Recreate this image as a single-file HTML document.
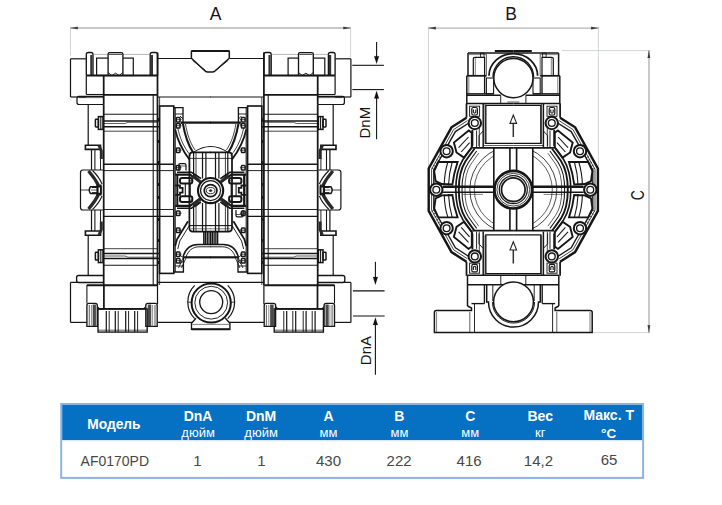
<!DOCTYPE html>
<html><head><meta charset="utf-8"><title>AF0170PD</title>
<style>
html,body{margin:0;padding:0;background:#fff}
body{width:722px;height:505px;position:relative;overflow:hidden;font-family:"Liberation Sans",sans-serif}
svg{display:block}
</style></head><body>
<svg width="722" height="505" viewBox="0 0 722 505" style="position:absolute;left:0;top:0" fill="none" stroke="#161616" stroke-linecap="butt">
<defs>
<clipPath id="clipL"><path d="M460,148 H493.8 V230.6 H460 Z M566.6,148 H532.8 V230.6 H566.6 Z"/></clipPath>
</defs>
<line x1="70.5" y1="28" x2="350.6" y2="28" stroke-width="1.28" stroke="#b2b4b7"/>
<line x1="70.5" y1="26.5" x2="70.5" y2="55.5" stroke-width="0.74" stroke="#c2c4c7"/>
<line x1="350.6" y1="26.5" x2="350.6" y2="57" stroke-width="0.74" stroke="#c2c4c7"/>
<path d="M70.5,28 l7.3,-1.3 v2.6 z" stroke-width="0.14" fill="#3a3a3a" stroke="#3a3a3a"/>
<path d="M350.6,28 l-7.3,-1.3 v2.6 z" stroke-width="0.14" fill="#3a3a3a" stroke="#3a3a3a"/>
<line x1="352.3" y1="65.3" x2="383.9" y2="65.3" stroke-width="1.08" stroke="#111"/>
<line x1="352.3" y1="89.6" x2="383.9" y2="89.6" stroke-width="1.08" stroke="#111"/>
<line x1="376.6" y1="42.1" x2="376.6" y2="60" stroke-width="1.08" stroke="#111"/>
<path d="M376.6,63.8 l-2.4,-7.6 h4.8 z" stroke-width="0.14" fill="#111" stroke="#111"/>
<line x1="376.6" y1="95" x2="376.6" y2="139.3" stroke-width="1.08" stroke="#111"/>
<path d="M376.6,91 l-2.4,7.6 h4.8 z" stroke-width="0.14" fill="#111" stroke="#111"/>
<line x1="352.9" y1="290.9" x2="384.6" y2="290.9" stroke-width="1.08" stroke="#111"/>
<line x1="352.9" y1="316" x2="384.6" y2="316" stroke-width="1.08" stroke="#111"/>
<line x1="375.4" y1="261.7" x2="375.4" y2="279" stroke-width="1.08" stroke="#111"/>
<path d="M375.4,284.7 l-2.4,-7.8 h4.8 z" stroke-width="0.14" fill="#111" stroke="#111"/>
<line x1="375.4" y1="321" x2="375.4" y2="374.7" stroke-width="1.08" stroke="#111"/>
<path d="M375.4,317.4 l-2.4,7.6 h4.8 z" stroke-width="0.14" fill="#111" stroke="#111"/>
<line x1="428.5" y1="28.1" x2="598.4" y2="28.1" stroke-width="1.28" stroke="#b2b4b7"/>
<line x1="428.5" y1="26.5" x2="428.5" y2="168" stroke-width="0.74" stroke="#c2c4c7"/>
<line x1="598.4" y1="26.5" x2="598.4" y2="170" stroke-width="0.74" stroke="#c2c4c7"/>
<path d="M428.5,28.1 l7.3,-1.3 v2.6 z" stroke-width="0.14" fill="#3a3a3a" stroke="#3a3a3a"/>
<path d="M598.4,28.1 l-7.3,-1.3 v2.6 z" stroke-width="0.14" fill="#3a3a3a" stroke="#3a3a3a"/>
<line x1="562" y1="50.6" x2="650.5" y2="50.6" stroke-width="0.74" stroke="#c2c4c7"/>
<line x1="593" y1="332.6" x2="650.5" y2="332.6" stroke-width="0.74" stroke="#c2c4c7"/>
<line x1="649" y1="50.6" x2="649" y2="332.6" stroke-width="1.42" stroke="#b2b4b7"/>
<path d="M648.9,50.6 l-1.3,7.3 h2.6 z" stroke-width="0.14" fill="#3a3a3a" stroke="#3a3a3a"/>
<path d="M648.9,332.6 l-1.3,-7.3 h2.6 z" stroke-width="0.14" fill="#3a3a3a" stroke="#3a3a3a"/>
<g><line x1="70.5" y1="58.8" x2="70.5" y2="97" stroke-width="1.22"/>
<line x1="70.5" y1="58.8" x2="86.3" y2="58.8" stroke-width="1.22"/>
<line x1="70.5" y1="97" x2="86.3" y2="97" stroke-width="1.22"/>
<line x1="157.5" y1="58.5" x2="191.4" y2="58.5" stroke-width="1.22"/>
<line x1="157.5" y1="97" x2="211" y2="97" stroke-width="1.22"/>
<path d="M86.3,75.5 V54.5 Q86.3,52.5 88.3,52.5 H91 Q93,52.5 93,54.5 V75.5" stroke-width="1.35" fill="none"/>
<line x1="91.3" y1="55" x2="91.3" y2="75.5" stroke-width="2.16" stroke="#333"/>
<path d="M150.2,75.5 V54.5 Q150.2,52.5 152.2,52.5 H155.6 Q157.6,52.5 157.6,54.5 V75.5" stroke-width="1.35" fill="none"/>
<line x1="151.9" y1="55" x2="151.9" y2="75.5" stroke-width="2.16" stroke="#333"/>
<line x1="93" y1="54.4" x2="150.2" y2="54.4" stroke-width="0.54" stroke="#777"/>
<rect x="96.6" y="58.1" width="36.7" height="17.4" rx="0" stroke-width="1.22" fill="none"/>
<path d="M108.1,75.5 V54 Q108.1,52.6 109.6,52.6 H121.4 Q122.9,52.6 122.9,54 V75.5" stroke-width="1.35" fill="#fff"/>
<path d="M108.1,72.5 L111.8,75.5 M122.9,72.5 L119.2,75.5 M111.8,75.5 L115.5,73.2 L119.2,75.5" stroke-width="0.94" fill="none"/>
<line x1="109" y1="54.4" x2="122" y2="54.4" stroke-width="0.81"/>
<line x1="86.3" y1="75.4" x2="157.6" y2="75.4" stroke-width="2.03"/>
<line x1="86.3" y1="75.5" x2="86.3" y2="94.5" stroke-width="1.22"/>
<line x1="103.7" y1="75.5" x2="103.7" y2="104.5" stroke-width="1.76"/>
<line x1="103.7" y1="94.8" x2="157.5" y2="94.8" stroke-width="1.76"/>
<line x1="86.3" y1="94.5" x2="103.7" y2="94.5" stroke-width="1.08"/>
<line x1="157.5" y1="52.5" x2="157.5" y2="285" stroke-width="1.76"/>
<path d="M103.7,96.3 H79 Q77,96.3 77,98.3 V102.5 Q77,104.5 79,104.5 H103.7" stroke-width="1.22" fill="none"/>
<line x1="79" y1="97.6" x2="103.7" y2="97.6" stroke-width="0.68"/>
<line x1="88.2" y1="104.5" x2="88.2" y2="145" stroke-width="1.22"/>
<line x1="103.7" y1="104.5" x2="103.7" y2="285" stroke-width="1.76"/>
<line x1="153.2" y1="95" x2="153.2" y2="285" stroke-width="1.08"/>
<line x1="159.6" y1="97" x2="159.6" y2="285" stroke-width="0.81"/>
<rect x="95.4" y="119.3" width="3.0" height="7.6" rx="0.6" stroke-width="1.49" fill="none"/>
<rect x="98.4" y="116.6" width="4.6" height="12.8" rx="0" stroke-width="1.49" fill="none"/>
<line x1="100.8" y1="116.6" x2="100.8" y2="129.4" stroke-width="1.08"/>
<line x1="103.7" y1="114.3" x2="157.5" y2="114.3" stroke-width="1.08"/>
<line x1="103.7" y1="121" x2="160" y2="121" stroke-width="1.35"/>
<line x1="103.7" y1="126.7" x2="160" y2="126.7" stroke-width="1.35"/>
<line x1="103.7" y1="131.2" x2="157.5" y2="131.2" stroke-width="0.81"/>
<path d="M103.7,123.5 H125 L128,122.3 H157.5" stroke-width="0.68" fill="none"/>
<line x1="103.7" y1="164.2" x2="173.8" y2="164.2" stroke-width="1.42"/>
<line x1="103.7" y1="170.6" x2="173.8" y2="170.6" stroke-width="0.94"/>
<line x1="103.7" y1="209.5" x2="173.8" y2="209.5" stroke-width="0.94"/>
<line x1="103.7" y1="216.4" x2="173.8" y2="216.4" stroke-width="1.42"/>
<rect x="95.4" y="252.3" width="3.0" height="7.7" rx="0.6" stroke-width="1.49" fill="none"/>
<rect x="98.4" y="249.8" width="4.6" height="12.8" rx="0" stroke-width="1.49" fill="none"/>
<line x1="100.8" y1="249.8" x2="100.8" y2="262.6" stroke-width="1.08"/>
<line x1="103.7" y1="248.7" x2="157.5" y2="248.7" stroke-width="0.81"/>
<line x1="103.7" y1="253.5" x2="160" y2="253.5" stroke-width="1.35"/>
<line x1="103.7" y1="258.5" x2="160" y2="258.5" stroke-width="1.35"/>
<line x1="103.7" y1="265.2" x2="157.5" y2="265.2" stroke-width="1.08"/>
<path d="M103.7,256 H125 L128,257.2 H157.5" stroke-width="0.68" fill="none"/>
<path d="M85.4,145.2 H100.5 V149.4 H85.4 Z" stroke-width="1.62" fill="none"/>
<line x1="91.5" y1="150" x2="91.5" y2="170" stroke-width="1.22"/>
<line x1="94.9" y1="150" x2="94.9" y2="170" stroke-width="1.08"/>
<line x1="100.5" y1="145" x2="100.5" y2="170" stroke-width="0.94"/>
<path d="M85.4,231 H100.5 V235.2 H85.4 Z" stroke-width="1.62" fill="none"/>
<line x1="91.5" y1="210" x2="91.5" y2="231" stroke-width="1.22"/>
<line x1="94.9" y1="210" x2="94.9" y2="231" stroke-width="1.08"/>
<line x1="100.5" y1="210" x2="100.5" y2="236" stroke-width="0.94"/>
<path d="M103,170 H83 Q80.5,170 80.5,172.5 V207.5 Q80.5,210 83,210 H103" stroke-width="1.22" fill="none"/>
<line x1="80.5" y1="190" x2="92" y2="190" stroke-width="0.81"/>
<path d="M88.5,171 Q95.5,179 99,186.5 M88.5,209 Q95.5,201 99,193.5" stroke-width="3.24" fill="none" stroke="#2a2a2a"/>
<path d="M92.5,170.5 Q99.5,177.5 102,184 M92.5,209.5 Q99.5,202.5 102,196" stroke-width="1.08" fill="none"/>
<path d="M99,145.5 L101.3,151 V159 M99,235 L101.3,229.5 V221.5" stroke-width="2.97" fill="none" stroke="#2a2a2a"/>
<path d="M90.5,186.7 H101 V193.5 H90.5 Q88,190 90.5,186.7 Z" stroke-width="1.49" fill="#fff"/>
<line x1="97.5" y1="184.5" x2="97.5" y2="195.5" stroke-width="2.16"/>
<line x1="100.8" y1="184.5" x2="100.8" y2="195.5" stroke-width="1.62"/>
<line x1="91" y1="190" x2="97.5" y2="190" stroke-width="0.68"/>
<line x1="92" y1="187.5" x2="97.5" y2="187.5" stroke-width="1.08"/>
<line x1="92" y1="192.7" x2="97.5" y2="192.7" stroke-width="1.08"/>
<line x1="88.2" y1="236" x2="88.2" y2="275.5" stroke-width="1.22"/>
<path d="M103.7,275.5 H78.6 Q76.6,275.5 76.6,277.5 V280.6 Q76.6,282.6 78.6,282.6 H103.7" stroke-width="1.35" fill="none"/>
<line x1="70.5" y1="282.4" x2="70.5" y2="322.4" stroke-width="1.22"/>
<line x1="70.5" y1="282.4" x2="103.7" y2="282.4" stroke-width="1.22"/>
<line x1="70.5" y1="322.4" x2="87" y2="322.4" stroke-width="1.22"/>
<line x1="86.9" y1="285.2" x2="157.2" y2="285.2" stroke-width="2.03"/>
<line x1="86.9" y1="285" x2="86.9" y2="303.5" stroke-width="1.08"/>
<line x1="103.9" y1="285" x2="103.9" y2="308.9" stroke-width="1.76"/>
<line x1="98" y1="308.9" x2="147.2" y2="308.9" stroke-width="1.76"/>
<line x1="157.5" y1="285" x2="157.5" y2="304" stroke-width="1.22"/>
<path d="M86.9,326.3 V305.4 Q86.9,303.4 88.9,303.4 H95.3 Q97.3,303.4 97.3,305.4 V326.3 Z" stroke-width="1.35" fill="#fff"/>
<line x1="89.3" y1="305" x2="89.3" y2="326" stroke-width="1.08" stroke="#666"/>
<line x1="94.3" y1="304.5" x2="94.3" y2="326" stroke-width="3.24" stroke="#4a4a4a"/>
<line x1="91.5" y1="305" x2="91.5" y2="326" stroke-width="1.08" stroke="#999"/>
<path d="M145.8,326.3 V305.4 Q145.8,303.4 147.8,303.4 H155.2 Q157.2,303.4 157.2,305.4 V326.3 Z" stroke-width="1.35" fill="#fff"/>
<line x1="149.5" y1="304.5" x2="149.5" y2="326" stroke-width="3.51" stroke="#4a4a4a"/>
<line x1="152.6" y1="305" x2="152.6" y2="326" stroke-width="1.08" stroke="#999"/>
<line x1="155" y1="305" x2="155" y2="326" stroke-width="1.08" stroke="#666"/>
<path d="M97.3,306.5 L99.5,308.9 M145.8,306.5 L143.6,308.9" stroke-width="1.08" fill="none"/>
<rect x="98" y="308.9" width="49.2" height="23.2" rx="0" stroke-width="1.35" fill="none"/>
<line x1="98" y1="330.2" x2="147.2" y2="330.2" stroke-width="0.68"/>
<line x1="106.3" y1="311" x2="106.3" y2="332" stroke-width="1.22"/>
<line x1="109.2" y1="311" x2="109.2" y2="332" stroke-width="0.94"/>
<line x1="115.3" y1="311" x2="115.3" y2="332" stroke-width="1.22"/>
<line x1="118.2" y1="311" x2="118.2" y2="332" stroke-width="0.94"/>
<line x1="125.7" y1="311" x2="125.7" y2="332" stroke-width="1.22"/>
<line x1="128.6" y1="311" x2="128.6" y2="332" stroke-width="0.94"/>
<line x1="134.7" y1="311" x2="134.7" y2="332" stroke-width="1.22"/>
<line x1="137.6" y1="311" x2="137.6" y2="332" stroke-width="0.94"/>
<line x1="157.5" y1="282.4" x2="211" y2="282.4" stroke-width="1.22"/>
<line x1="157.5" y1="322.4" x2="192.4" y2="322.4" stroke-width="1.22"/>
<rect x="159.6" y="106" width="14.2" height="167.4" rx="0" stroke-width="1.62" fill="none"/>
<line x1="175.2" y1="108" x2="175.2" y2="272" stroke-width="1.08"/>
<path d="M174,107.6 H183 V122 M174,272 H183.4 V258" stroke-width="1.35" fill="none"/>
<line x1="175.2" y1="114" x2="183" y2="114" stroke-width="0.94"/>
<line x1="175.2" y1="266" x2="183.4" y2="266" stroke-width="0.94"/>
<rect x="176.3" y="117.5" width="3.7" height="4.5" rx="0.8" stroke-width="1.49" fill="none"/>
<line x1="176.3" y1="119.7" x2="181.5" y2="119.7" stroke-width="0.81"/>
<rect x="176.3" y="123.5" width="3.7" height="4.5" rx="0.8" stroke-width="1.49" fill="none"/>
<line x1="176.3" y1="125.7" x2="181.5" y2="125.7" stroke-width="0.81"/>
<rect x="176.3" y="148" width="3.7" height="4.5" rx="0.8" stroke-width="1.49" fill="none"/>
<line x1="176.3" y1="150.2" x2="181.5" y2="150.2" stroke-width="0.81"/>
<rect x="176.3" y="165.5" width="3.7" height="4.5" rx="0.8" stroke-width="1.49" fill="none"/>
<line x1="176.3" y1="167.7" x2="181.5" y2="167.7" stroke-width="0.81"/>
<rect x="176.3" y="211" width="3.7" height="4.5" rx="0.8" stroke-width="1.49" fill="none"/>
<line x1="176.3" y1="213.2" x2="181.5" y2="213.2" stroke-width="0.81"/>
<rect x="176.3" y="228" width="3.7" height="4.5" rx="0.8" stroke-width="1.49" fill="none"/>
<line x1="176.3" y1="230.2" x2="181.5" y2="230.2" stroke-width="0.81"/>
<rect x="176.3" y="252" width="3.7" height="4.5" rx="0.8" stroke-width="1.49" fill="none"/>
<line x1="176.3" y1="254.2" x2="181.5" y2="254.2" stroke-width="0.81"/>
<rect x="176.3" y="258.5" width="3.7" height="4.5" rx="0.8" stroke-width="1.49" fill="none"/>
<line x1="176.3" y1="260.7" x2="181.5" y2="260.7" stroke-width="0.81"/>
<path d="M180,116 L183,119 M180,125 L183,122 M180,264 L183.4,261 M180,255 L183.4,258" stroke-width="0.94" fill="none"/>
<line x1="158.6" y1="118" x2="158.6" y2="121" stroke-width="1.22"/>
<line x1="158.6" y1="140" x2="158.6" y2="143" stroke-width="1.22"/>
<line x1="158.6" y1="161" x2="158.6" y2="164" stroke-width="1.22"/>
<line x1="158.6" y1="183" x2="158.6" y2="186" stroke-width="1.22"/>
<line x1="158.6" y1="196" x2="158.6" y2="199" stroke-width="1.22"/>
<line x1="158.6" y1="218" x2="158.6" y2="221" stroke-width="1.22"/>
<line x1="158.6" y1="239" x2="158.6" y2="242" stroke-width="1.22"/>
<line x1="158.6" y1="261" x2="158.6" y2="264" stroke-width="1.22"/>
<line x1="180.5" y1="122.6" x2="211" y2="122.6" stroke-width="2.29"/>
<line x1="183" y1="257.3" x2="211" y2="257.3" stroke-width="2.16"/>
<path d="M182.9,123.5 C184.5,133 187,143 193,152.4" stroke-width="2.03" fill="none"/>
<path d="M185.5,124 C187,133 189.5,142 195,150" stroke-width="0.81" fill="none"/>
<path d="M175.2,129.5 C177,138 181.5,149 189.4,159.5" stroke-width="1.76" fill="none"/>
<path d="M177.8,128 C179.5,137 183.5,147 190.5,155.5" stroke-width="0.81" fill="none"/>
<path d="M188,221.3 L177,239.3 L175.2,246" stroke-width="1.76" fill="none"/>
<path d="M189,226 L179.8,241 L177.8,249" stroke-width="0.94" fill="none"/>
<path d="M211,152.4 H193 Q189.4,152.4 189.4,156 V228 Q189.4,231.6 193,231.6 H211" stroke-width="1.76" fill="none"/>
<line x1="189.4" y1="225.6" x2="211" y2="225.6" stroke-width="1.08"/>
<line x1="189.4" y1="158.4" x2="211" y2="158.4" stroke-width="0.81"/>
<line x1="191" y1="228.8" x2="211" y2="228.8" stroke-width="0.54"/>
<line x1="193.6" y1="152.4" x2="193.6" y2="178.5" stroke-width="1.22"/>
<line x1="193.6" y1="203" x2="193.6" y2="231.6" stroke-width="1.22"/>
<line x1="196" y1="152.4" x2="196" y2="178.5" stroke-width="0.81"/>
<line x1="196" y1="203" x2="196" y2="231.6" stroke-width="0.81"/>
<line x1="202.5" y1="152.4" x2="202.5" y2="178.5" stroke-width="1.22"/>
<line x1="202.5" y1="203" x2="202.5" y2="231.6" stroke-width="1.22"/>
<line x1="205.9" y1="152.4" x2="205.9" y2="178.5" stroke-width="1.22"/>
<line x1="205.9" y1="203" x2="205.9" y2="231.6" stroke-width="1.22"/>
<rect x="180" y="178" width="12.3" height="5.5" rx="2" stroke-width="2.03" fill="none"/>
<rect x="180" y="196.2" width="12.3" height="5.8" rx="2" stroke-width="2.03" fill="none"/>
<line x1="185.3" y1="183.5" x2="185.3" y2="196.2" stroke-width="1.08"/>
<line x1="190.2" y1="183.5" x2="190.2" y2="196.2" stroke-width="1.08"/>
<path d="M175.2,174.6 H190 L199.5,181.5 M175.2,205.8 H190 L199.5,199" stroke-width="2.16" fill="none"/>
<path d="M177,172.3 H191.5 L201,178.6 M177,208.2 H191.5 L201,201.8" stroke-width="1.62" fill="none"/>
<path d="M193,174.5 l6,4.5 M195,174 l6,4.5 M193,206.5 l6,-4.5 M195,207 l6,-4.5" stroke-width="0.81" fill="none"/>
<path d="M175.2,185.5 H180 V187.8 H182.6 V192.6 H180 V194.8 H175.2" stroke-width="1.76" fill="none"/>
<line x1="177.3" y1="174.6" x2="177.3" y2="205.8" stroke-width="2.03"/>
<path d="M192.6,180.8 H189.4 M192.6,200.2 H189.4" stroke-width="0.68" fill="none"/>
<line x1="203.9" y1="231.6" x2="203.9" y2="244.4" stroke-width="1.62"/>
<line x1="205.6" y1="231.6" x2="205.6" y2="244.4" stroke-width="1.22"/>
<line x1="207.3" y1="231.6" x2="207.3" y2="244.4" stroke-width="1.35"/>
<line x1="209" y1="231.6" x2="209" y2="244.4" stroke-width="1.22"/>
<line x1="210.5" y1="231.6" x2="210.5" y2="244.4" stroke-width="1.08"/>
<path d="M211,244.6 H198 C190,244.6 185,250 183,257" stroke-width="1.49" fill="none"/>
<path d="M211,246.8 H199 C192.5,246.8 188,251 186,257" stroke-width="0.94" fill="none"/>
<path d="M183,258 L178.5,268 M186,258 L181.5,268" stroke-width="0.81" fill="none"/></g>
<g transform="translate(421.4,0) scale(-1,1)"><line x1="70.5" y1="58.8" x2="70.5" y2="97" stroke-width="1.22"/>
<line x1="70.5" y1="58.8" x2="86.3" y2="58.8" stroke-width="1.22"/>
<line x1="70.5" y1="97" x2="86.3" y2="97" stroke-width="1.22"/>
<line x1="157.5" y1="58.5" x2="191.4" y2="58.5" stroke-width="1.22"/>
<line x1="157.5" y1="97" x2="211" y2="97" stroke-width="1.22"/>
<path d="M86.3,75.5 V54.5 Q86.3,52.5 88.3,52.5 H91 Q93,52.5 93,54.5 V75.5" stroke-width="1.35" fill="none"/>
<line x1="91.3" y1="55" x2="91.3" y2="75.5" stroke-width="2.16" stroke="#333"/>
<path d="M150.2,75.5 V54.5 Q150.2,52.5 152.2,52.5 H155.6 Q157.6,52.5 157.6,54.5 V75.5" stroke-width="1.35" fill="none"/>
<line x1="151.9" y1="55" x2="151.9" y2="75.5" stroke-width="2.16" stroke="#333"/>
<line x1="93" y1="54.4" x2="150.2" y2="54.4" stroke-width="0.54" stroke="#777"/>
<rect x="96.6" y="58.1" width="36.7" height="17.4" rx="0" stroke-width="1.22" fill="none"/>
<path d="M108.1,75.5 V54 Q108.1,52.6 109.6,52.6 H121.4 Q122.9,52.6 122.9,54 V75.5" stroke-width="1.35" fill="#fff"/>
<path d="M108.1,72.5 L111.8,75.5 M122.9,72.5 L119.2,75.5 M111.8,75.5 L115.5,73.2 L119.2,75.5" stroke-width="0.94" fill="none"/>
<line x1="109" y1="54.4" x2="122" y2="54.4" stroke-width="0.81"/>
<line x1="86.3" y1="75.4" x2="157.6" y2="75.4" stroke-width="2.03"/>
<line x1="86.3" y1="75.5" x2="86.3" y2="94.5" stroke-width="1.22"/>
<line x1="103.7" y1="75.5" x2="103.7" y2="104.5" stroke-width="1.76"/>
<line x1="103.7" y1="94.8" x2="157.5" y2="94.8" stroke-width="1.76"/>
<line x1="86.3" y1="94.5" x2="103.7" y2="94.5" stroke-width="1.08"/>
<line x1="157.5" y1="52.5" x2="157.5" y2="285" stroke-width="1.76"/>
<path d="M103.7,96.3 H79 Q77,96.3 77,98.3 V102.5 Q77,104.5 79,104.5 H103.7" stroke-width="1.22" fill="none"/>
<line x1="79" y1="97.6" x2="103.7" y2="97.6" stroke-width="0.68"/>
<line x1="88.2" y1="104.5" x2="88.2" y2="145" stroke-width="1.22"/>
<line x1="103.7" y1="104.5" x2="103.7" y2="285" stroke-width="1.76"/>
<line x1="153.2" y1="95" x2="153.2" y2="285" stroke-width="1.08"/>
<line x1="159.6" y1="97" x2="159.6" y2="285" stroke-width="0.81"/>
<rect x="95.4" y="119.3" width="3.0" height="7.6" rx="0.6" stroke-width="1.49" fill="none"/>
<rect x="98.4" y="116.6" width="4.6" height="12.8" rx="0" stroke-width="1.49" fill="none"/>
<line x1="100.8" y1="116.6" x2="100.8" y2="129.4" stroke-width="1.08"/>
<line x1="103.7" y1="114.3" x2="157.5" y2="114.3" stroke-width="1.08"/>
<line x1="103.7" y1="121" x2="160" y2="121" stroke-width="1.35"/>
<line x1="103.7" y1="126.7" x2="160" y2="126.7" stroke-width="1.35"/>
<line x1="103.7" y1="131.2" x2="157.5" y2="131.2" stroke-width="0.81"/>
<path d="M103.7,123.5 H125 L128,122.3 H157.5" stroke-width="0.68" fill="none"/>
<line x1="103.7" y1="164.2" x2="173.8" y2="164.2" stroke-width="1.42"/>
<line x1="103.7" y1="170.6" x2="173.8" y2="170.6" stroke-width="0.94"/>
<line x1="103.7" y1="209.5" x2="173.8" y2="209.5" stroke-width="0.94"/>
<line x1="103.7" y1="216.4" x2="173.8" y2="216.4" stroke-width="1.42"/>
<rect x="95.4" y="252.3" width="3.0" height="7.7" rx="0.6" stroke-width="1.49" fill="none"/>
<rect x="98.4" y="249.8" width="4.6" height="12.8" rx="0" stroke-width="1.49" fill="none"/>
<line x1="100.8" y1="249.8" x2="100.8" y2="262.6" stroke-width="1.08"/>
<line x1="103.7" y1="248.7" x2="157.5" y2="248.7" stroke-width="0.81"/>
<line x1="103.7" y1="253.5" x2="160" y2="253.5" stroke-width="1.35"/>
<line x1="103.7" y1="258.5" x2="160" y2="258.5" stroke-width="1.35"/>
<line x1="103.7" y1="265.2" x2="157.5" y2="265.2" stroke-width="1.08"/>
<path d="M103.7,256 H125 L128,257.2 H157.5" stroke-width="0.68" fill="none"/>
<path d="M85.4,145.2 H100.5 V149.4 H85.4 Z" stroke-width="1.62" fill="none"/>
<line x1="91.5" y1="150" x2="91.5" y2="170" stroke-width="1.22"/>
<line x1="94.9" y1="150" x2="94.9" y2="170" stroke-width="1.08"/>
<line x1="100.5" y1="145" x2="100.5" y2="170" stroke-width="0.94"/>
<path d="M85.4,231 H100.5 V235.2 H85.4 Z" stroke-width="1.62" fill="none"/>
<line x1="91.5" y1="210" x2="91.5" y2="231" stroke-width="1.22"/>
<line x1="94.9" y1="210" x2="94.9" y2="231" stroke-width="1.08"/>
<line x1="100.5" y1="210" x2="100.5" y2="236" stroke-width="0.94"/>
<path d="M103,170 H83 Q80.5,170 80.5,172.5 V207.5 Q80.5,210 83,210 H103" stroke-width="1.22" fill="none"/>
<line x1="80.5" y1="190" x2="92" y2="190" stroke-width="0.81"/>
<path d="M88.5,171 Q95.5,179 99,186.5 M88.5,209 Q95.5,201 99,193.5" stroke-width="3.24" fill="none" stroke="#2a2a2a"/>
<path d="M92.5,170.5 Q99.5,177.5 102,184 M92.5,209.5 Q99.5,202.5 102,196" stroke-width="1.08" fill="none"/>
<path d="M99,145.5 L101.3,151 V159 M99,235 L101.3,229.5 V221.5" stroke-width="2.97" fill="none" stroke="#2a2a2a"/>
<path d="M90.5,186.7 H101 V193.5 H90.5 Q88,190 90.5,186.7 Z" stroke-width="1.49" fill="#fff"/>
<line x1="97.5" y1="184.5" x2="97.5" y2="195.5" stroke-width="2.16"/>
<line x1="100.8" y1="184.5" x2="100.8" y2="195.5" stroke-width="1.62"/>
<line x1="91" y1="190" x2="97.5" y2="190" stroke-width="0.68"/>
<line x1="92" y1="187.5" x2="97.5" y2="187.5" stroke-width="1.08"/>
<line x1="92" y1="192.7" x2="97.5" y2="192.7" stroke-width="1.08"/>
<line x1="88.2" y1="236" x2="88.2" y2="275.5" stroke-width="1.22"/>
<path d="M103.7,275.5 H78.6 Q76.6,275.5 76.6,277.5 V280.6 Q76.6,282.6 78.6,282.6 H103.7" stroke-width="1.35" fill="none"/>
<line x1="70.5" y1="282.4" x2="70.5" y2="322.4" stroke-width="1.22"/>
<line x1="70.5" y1="282.4" x2="103.7" y2="282.4" stroke-width="1.22"/>
<line x1="70.5" y1="322.4" x2="87" y2="322.4" stroke-width="1.22"/>
<line x1="86.9" y1="285.2" x2="157.2" y2="285.2" stroke-width="2.03"/>
<line x1="86.9" y1="285" x2="86.9" y2="303.5" stroke-width="1.08"/>
<line x1="103.9" y1="285" x2="103.9" y2="308.9" stroke-width="1.76"/>
<line x1="98" y1="308.9" x2="147.2" y2="308.9" stroke-width="1.76"/>
<line x1="157.5" y1="285" x2="157.5" y2="304" stroke-width="1.22"/>
<path d="M86.9,326.3 V305.4 Q86.9,303.4 88.9,303.4 H95.3 Q97.3,303.4 97.3,305.4 V326.3 Z" stroke-width="1.35" fill="#fff"/>
<line x1="89.3" y1="305" x2="89.3" y2="326" stroke-width="1.08" stroke="#666"/>
<line x1="94.3" y1="304.5" x2="94.3" y2="326" stroke-width="3.24" stroke="#4a4a4a"/>
<line x1="91.5" y1="305" x2="91.5" y2="326" stroke-width="1.08" stroke="#999"/>
<path d="M145.8,326.3 V305.4 Q145.8,303.4 147.8,303.4 H155.2 Q157.2,303.4 157.2,305.4 V326.3 Z" stroke-width="1.35" fill="#fff"/>
<line x1="149.5" y1="304.5" x2="149.5" y2="326" stroke-width="3.51" stroke="#4a4a4a"/>
<line x1="152.6" y1="305" x2="152.6" y2="326" stroke-width="1.08" stroke="#999"/>
<line x1="155" y1="305" x2="155" y2="326" stroke-width="1.08" stroke="#666"/>
<path d="M97.3,306.5 L99.5,308.9 M145.8,306.5 L143.6,308.9" stroke-width="1.08" fill="none"/>
<rect x="98" y="308.9" width="49.2" height="23.2" rx="0" stroke-width="1.35" fill="none"/>
<line x1="98" y1="330.2" x2="147.2" y2="330.2" stroke-width="0.68"/>
<line x1="106.3" y1="311" x2="106.3" y2="332" stroke-width="1.22"/>
<line x1="109.2" y1="311" x2="109.2" y2="332" stroke-width="0.94"/>
<line x1="115.3" y1="311" x2="115.3" y2="332" stroke-width="1.22"/>
<line x1="118.2" y1="311" x2="118.2" y2="332" stroke-width="0.94"/>
<line x1="125.7" y1="311" x2="125.7" y2="332" stroke-width="1.22"/>
<line x1="128.6" y1="311" x2="128.6" y2="332" stroke-width="0.94"/>
<line x1="134.7" y1="311" x2="134.7" y2="332" stroke-width="1.22"/>
<line x1="137.6" y1="311" x2="137.6" y2="332" stroke-width="0.94"/>
<line x1="157.5" y1="282.4" x2="211" y2="282.4" stroke-width="1.22"/>
<line x1="157.5" y1="322.4" x2="192.4" y2="322.4" stroke-width="1.22"/>
<rect x="159.6" y="106" width="14.2" height="167.4" rx="0" stroke-width="1.62" fill="none"/>
<line x1="175.2" y1="108" x2="175.2" y2="272" stroke-width="1.08"/>
<path d="M174,107.6 H183 V122 M174,272 H183.4 V258" stroke-width="1.35" fill="none"/>
<line x1="175.2" y1="114" x2="183" y2="114" stroke-width="0.94"/>
<line x1="175.2" y1="266" x2="183.4" y2="266" stroke-width="0.94"/>
<rect x="176.3" y="117.5" width="3.7" height="4.5" rx="0.8" stroke-width="1.49" fill="none"/>
<line x1="176.3" y1="119.7" x2="181.5" y2="119.7" stroke-width="0.81"/>
<rect x="176.3" y="123.5" width="3.7" height="4.5" rx="0.8" stroke-width="1.49" fill="none"/>
<line x1="176.3" y1="125.7" x2="181.5" y2="125.7" stroke-width="0.81"/>
<rect x="176.3" y="148" width="3.7" height="4.5" rx="0.8" stroke-width="1.49" fill="none"/>
<line x1="176.3" y1="150.2" x2="181.5" y2="150.2" stroke-width="0.81"/>
<rect x="176.3" y="165.5" width="3.7" height="4.5" rx="0.8" stroke-width="1.49" fill="none"/>
<line x1="176.3" y1="167.7" x2="181.5" y2="167.7" stroke-width="0.81"/>
<rect x="176.3" y="211" width="3.7" height="4.5" rx="0.8" stroke-width="1.49" fill="none"/>
<line x1="176.3" y1="213.2" x2="181.5" y2="213.2" stroke-width="0.81"/>
<rect x="176.3" y="228" width="3.7" height="4.5" rx="0.8" stroke-width="1.49" fill="none"/>
<line x1="176.3" y1="230.2" x2="181.5" y2="230.2" stroke-width="0.81"/>
<rect x="176.3" y="252" width="3.7" height="4.5" rx="0.8" stroke-width="1.49" fill="none"/>
<line x1="176.3" y1="254.2" x2="181.5" y2="254.2" stroke-width="0.81"/>
<rect x="176.3" y="258.5" width="3.7" height="4.5" rx="0.8" stroke-width="1.49" fill="none"/>
<line x1="176.3" y1="260.7" x2="181.5" y2="260.7" stroke-width="0.81"/>
<path d="M180,116 L183,119 M180,125 L183,122 M180,264 L183.4,261 M180,255 L183.4,258" stroke-width="0.94" fill="none"/>
<line x1="158.6" y1="118" x2="158.6" y2="121" stroke-width="1.22"/>
<line x1="158.6" y1="140" x2="158.6" y2="143" stroke-width="1.22"/>
<line x1="158.6" y1="161" x2="158.6" y2="164" stroke-width="1.22"/>
<line x1="158.6" y1="183" x2="158.6" y2="186" stroke-width="1.22"/>
<line x1="158.6" y1="196" x2="158.6" y2="199" stroke-width="1.22"/>
<line x1="158.6" y1="218" x2="158.6" y2="221" stroke-width="1.22"/>
<line x1="158.6" y1="239" x2="158.6" y2="242" stroke-width="1.22"/>
<line x1="158.6" y1="261" x2="158.6" y2="264" stroke-width="1.22"/>
<line x1="180.5" y1="122.6" x2="211" y2="122.6" stroke-width="2.29"/>
<line x1="183" y1="257.3" x2="211" y2="257.3" stroke-width="2.16"/>
<path d="M182.9,123.5 C184.5,133 187,143 193,152.4" stroke-width="2.03" fill="none"/>
<path d="M185.5,124 C187,133 189.5,142 195,150" stroke-width="0.81" fill="none"/>
<path d="M175.2,129.5 C177,138 181.5,149 189.4,159.5" stroke-width="1.76" fill="none"/>
<path d="M177.8,128 C179.5,137 183.5,147 190.5,155.5" stroke-width="0.81" fill="none"/>
<path d="M188,221.3 L177,239.3 L175.2,246" stroke-width="1.76" fill="none"/>
<path d="M189,226 L179.8,241 L177.8,249" stroke-width="0.94" fill="none"/>
<path d="M211,152.4 H193 Q189.4,152.4 189.4,156 V228 Q189.4,231.6 193,231.6 H211" stroke-width="1.76" fill="none"/>
<line x1="189.4" y1="225.6" x2="211" y2="225.6" stroke-width="1.08"/>
<line x1="189.4" y1="158.4" x2="211" y2="158.4" stroke-width="0.81"/>
<line x1="191" y1="228.8" x2="211" y2="228.8" stroke-width="0.54"/>
<line x1="193.6" y1="152.4" x2="193.6" y2="178.5" stroke-width="1.22"/>
<line x1="193.6" y1="203" x2="193.6" y2="231.6" stroke-width="1.22"/>
<line x1="196" y1="152.4" x2="196" y2="178.5" stroke-width="0.81"/>
<line x1="196" y1="203" x2="196" y2="231.6" stroke-width="0.81"/>
<line x1="202.5" y1="152.4" x2="202.5" y2="178.5" stroke-width="1.22"/>
<line x1="202.5" y1="203" x2="202.5" y2="231.6" stroke-width="1.22"/>
<line x1="205.9" y1="152.4" x2="205.9" y2="178.5" stroke-width="1.22"/>
<line x1="205.9" y1="203" x2="205.9" y2="231.6" stroke-width="1.22"/>
<rect x="180" y="178" width="12.3" height="5.5" rx="2" stroke-width="2.03" fill="none"/>
<rect x="180" y="196.2" width="12.3" height="5.8" rx="2" stroke-width="2.03" fill="none"/>
<line x1="185.3" y1="183.5" x2="185.3" y2="196.2" stroke-width="1.08"/>
<line x1="190.2" y1="183.5" x2="190.2" y2="196.2" stroke-width="1.08"/>
<path d="M175.2,174.6 H190 L199.5,181.5 M175.2,205.8 H190 L199.5,199" stroke-width="2.16" fill="none"/>
<path d="M177,172.3 H191.5 L201,178.6 M177,208.2 H191.5 L201,201.8" stroke-width="1.62" fill="none"/>
<path d="M193,174.5 l6,4.5 M195,174 l6,4.5 M193,206.5 l6,-4.5 M195,207 l6,-4.5" stroke-width="0.81" fill="none"/>
<path d="M175.2,185.5 H180 V187.8 H182.6 V192.6 H180 V194.8 H175.2" stroke-width="1.76" fill="none"/>
<line x1="177.3" y1="174.6" x2="177.3" y2="205.8" stroke-width="2.03"/>
<path d="M192.6,180.8 H189.4 M192.6,200.2 H189.4" stroke-width="0.68" fill="none"/>
<line x1="203.9" y1="231.6" x2="203.9" y2="244.4" stroke-width="1.62"/>
<line x1="205.6" y1="231.6" x2="205.6" y2="244.4" stroke-width="1.22"/>
<line x1="207.3" y1="231.6" x2="207.3" y2="244.4" stroke-width="1.35"/>
<line x1="209" y1="231.6" x2="209" y2="244.4" stroke-width="1.22"/>
<line x1="210.5" y1="231.6" x2="210.5" y2="244.4" stroke-width="1.08"/>
<path d="M211,244.6 H198 C190,244.6 185,250 183,257" stroke-width="1.49" fill="none"/>
<path d="M211,246.8 H199 C192.5,246.8 188,251 186,257" stroke-width="0.94" fill="none"/>
<path d="M183,258 L178.5,268 M186,258 L181.5,268" stroke-width="0.81" fill="none"/></g>
<path d="M193.3,152.4 Q210.7,140.6 228.1,152.4" stroke-width="1.08" fill="none"/>
<path d="M191.4,58.2 V51.6 Q191.4,50.9 192.1,50.9 H228.6 Q229.3,50.9 229.3,51.6 V58.2 L215,71 Q213.9,72 212.4,72 H207.7 Q206.2,72 205.1,71 Z" stroke-width="1.49" fill="#fff"/>
<line x1="191.4" y1="51" x2="229.3" y2="51" stroke-width="2.16"/>
<path d="M192.6,60.4 L205.6,70.6 M228.1,60.4 L215.1,70.6" stroke-width="0.94" fill="none"/>
<path d="M178.8,170.5 V165 Q178.8,163.6 180.2,163.6 H184.6 Q186,163.6 186,165 V170.5" stroke-width="1.22" fill="none"/>
<line x1="179" y1="166" x2="186" y2="166" stroke-width="0.68"/>
<path d="M243.2,210 V215.5 Q243.2,216.9 241.8,216.9 H237.4 Q236,216.9 236,215.5 V210" stroke-width="1.22" fill="none"/>
<line x1="236" y1="214.5" x2="243" y2="214.5" stroke-width="0.68"/>
<path d="M200.5,182 L193,176 M220.7,182 L228.2,176 M200.5,199.2 L193,205.2 M220.7,199.2 L228.2,205.2" stroke-width="2.97" fill="none" stroke="#2a2a2a"/>
<circle cx="210.6" cy="190.6" r="12.6" stroke-width="2.16" fill="#fff"/>
<circle cx="210.6" cy="190.6" r="10" stroke-width="1.22" fill="none"/>
<ellipse cx="210.6" cy="190.6" rx="6.4" ry="6" stroke-width="1.7" fill="none"/>
<ellipse cx="210.6" cy="190.6" rx="4.3" ry="3.1" stroke-width="0.9" fill="none"/>
<ellipse cx="210.6" cy="190.6" rx="1.3" ry="0.9" stroke-width="0.8" fill="#222"/>
<path d="M194.7,285.4 A23.4,23.4 0 0 0 194.7,318.6 M227.7,285.4 A23.4,23.4 0 0 1 227.7,318.6" stroke-width="1.22" fill="none"/>
<circle cx="211.2" cy="303" r="19.6" stroke-width="2.03" fill="#fff"/>
<circle cx="211.2" cy="302.7" r="16.4" stroke-width="0.94" fill="none"/>
<circle cx="211.2" cy="302.1" r="11.5" stroke-width="1.35" fill="none"/>
<line x1="187.8" y1="302.2" x2="191.4" y2="302.2" stroke-width="0.81"/>
<line x1="231" y1="302.2" x2="234.6" y2="302.2" stroke-width="0.81"/>
<path d="M196,318.2 L191.5,323.2 V329.4 H229.9 V323.2 L225.4,318.2" stroke-width="1.35" fill="none"/>
<line x1="191.5" y1="329.2" x2="229.9" y2="329.2" stroke-width="1.89"/>
<line x1="192.4" y1="324.4" x2="229" y2="324.4" stroke-width="0.54"/>
<g clip-path="url(#clipL)">
<circle cx="513.3" cy="189.7" r="39" stroke-width="0.68" fill="none"/>
<circle cx="513.3" cy="189.7" r="43.5" stroke-width="0.81" fill="none"/>
</g>
<g><line x1="468" y1="53.1" x2="513.3" y2="53.1" stroke-width="1.49"/>
<line x1="469" y1="54.6" x2="486" y2="54.6" stroke-width="0.54"/>
<line x1="468" y1="53.1" x2="468" y2="75.8" stroke-width="1.49"/>
<line x1="466.8" y1="75.8" x2="466.8" y2="104" stroke-width="1.49"/>
<path d="M473.3,75.8 V58.8 Q473.3,57.3 474.8,57.3 H484.6 V75.8" stroke-width="1.22" fill="none"/>
<line x1="475.3" y1="58" x2="475.3" y2="75.8" stroke-width="0.54"/>
<rect x="480.5" y="53.1" width="3.5" height="4.2" rx="0" stroke-width="0.81" fill="none"/>
<line x1="486.4" y1="54" x2="486.4" y2="75.8" stroke-width="0.68"/>
<line x1="466.8" y1="75.8" x2="486.4" y2="75.8" stroke-width="1.76"/>
<line x1="484.6" y1="75.8" x2="484.6" y2="93.8" stroke-width="1.35"/>
<line x1="466.8" y1="93.8" x2="493.6" y2="93.8" stroke-width="1.35"/>
<line x1="468.8" y1="77" x2="468.8" y2="93" stroke-width="0.54"/>
<rect x="486.4" y="78" width="7.2" height="15.8" rx="0" stroke-width="1.08" fill="none"/>
<line x1="494.8" y1="51" x2="513.3" y2="51" stroke-width="2.03"/>
<line x1="466.8" y1="95.2" x2="500.7" y2="95.2" stroke-width="1.49"/>
<line x1="466.8" y1="103.6" x2="513.3" y2="103.6" stroke-width="1.49"/>
<line x1="500.7" y1="95.2" x2="500.7" y2="103.6" stroke-width="0.94"/>
<line x1="507.3" y1="102" x2="513.3" y2="102" stroke-width="0.68"/>
<line x1="466.5" y1="103.6" x2="466.5" y2="117.7" stroke-width="1.76"/>
<line x1="483.2" y1="103.6" x2="483.2" y2="147.8" stroke-width="1.49"/>
<line x1="485" y1="104" x2="485" y2="144" stroke-width="0.68"/>
<rect x="469.6" y="106.2" width="10.0" height="10.1" rx="0" stroke-width="0.94" fill="none"/>
<rect x="471.8" y="107.5" width="5.6" height="7.5" rx="1.5" stroke-width="1.22" fill="none"/>
<path d="M473.4,109.5 V112.3 Q474.6,114 475.8,112.3 V109.5" stroke-width="1.08" fill="none"/>
<line x1="472.4" y1="130" x2="472.4" y2="146" stroke-width="1.89"/>
<line x1="476.6" y1="130.5" x2="476.6" y2="147.8" stroke-width="0.94"/>
<line x1="479.3" y1="128" x2="479.3" y2="147.8" stroke-width="0.81"/>
<path d="M483.2,131.0 L479.0,135.5 L479.0,146.0" stroke-width="0.94" fill="none"/>
<path d="M468.7,130.5 L453.9,142.5 L456.5,152.5 L464.0,157.6 L471.8,147.5 L471.8,132.8 Z" stroke-width="1.89" fill="none"/>
<path d="M458.6,147.6 L468.5,137.0" stroke-width="1.08" fill="none"/>
<path d="M461.2,152.0 L469.6,142.6" stroke-width="1.08" fill="none"/>
<path d="M438.3,162 L457.6,162 Q453.6,174 452.4,184.4 L442,184 L435.6,181 L434.2,171 Z" stroke-width="1.89" fill="none"/>
<path d="M447.9,162 Q444.6,172 444.2,185" stroke-width="1.08" fill="none"/>
<path d="M452.2,162 Q449,173 448.5,185.3" stroke-width="1.08" fill="none"/>
<path d="M431.5,168.0 L434.1,169.4" stroke-width="0.68" fill="none"/>
<path d="M433.1,165.1 L435.7,166.5" stroke-width="0.68" fill="none"/>
<path d="M434.7,162.2 L437.3,163.6" stroke-width="0.68" fill="none"/>
<path d="M436.3,159.3 L438.9,160.7" stroke-width="0.68" fill="none"/>
<path d="M437.9,156.4 L440.5,157.8" stroke-width="0.68" fill="none"/>
<line x1="466.5" y1="275.79999999999995" x2="466.5" y2="261.7" stroke-width="1.76"/>
<line x1="483.2" y1="275.79999999999995" x2="483.2" y2="231.59999999999997" stroke-width="1.49"/>
<line x1="485" y1="275.4" x2="485" y2="235.39999999999998" stroke-width="0.68"/>
<rect x="469.6" y="263.09999999999997" width="10.0" height="10.1" rx="0" stroke-width="0.94" fill="none"/>
<rect x="471.8" y="264.4" width="5.6" height="7.5" rx="1.5" stroke-width="1.22" fill="none"/>
<path d="M473.4,269.9 V267.09999999999997 Q474.6,265.4 475.8,267.09999999999997 V269.9" stroke-width="1.08" fill="none"/>
<line x1="472.4" y1="249.39999999999998" x2="472.4" y2="233.39999999999998" stroke-width="1.89"/>
<line x1="476.6" y1="248.89999999999998" x2="476.6" y2="231.59999999999997" stroke-width="0.94"/>
<line x1="479.3" y1="251.39999999999998" x2="479.3" y2="231.59999999999997" stroke-width="0.81"/>
<path d="M483.2,248.4 L479.0,243.9 L479.0,233.4" stroke-width="0.94" fill="none"/>
<path d="M468.7,248.9 L453.9,236.9 L456.5,226.9 L464.0,221.8 L471.8,231.9 L471.8,246.6 Z" stroke-width="1.89" fill="none"/>
<path d="M458.6,231.8 L468.5,242.4" stroke-width="1.08" fill="none"/>
<path d="M461.2,227.4 L469.6,236.8" stroke-width="1.08" fill="none"/>
<path d="M438.3,217.39999999999998 L457.6,217.39999999999998 Q453.6,205.39999999999998 452.4,194.99999999999997 L442,195.39999999999998 L435.6,198.39999999999998 L434.2,208.39999999999998 Z" stroke-width="1.89" fill="none"/>
<path d="M447.9,217.39999999999998 Q444.6,207.39999999999998 444.2,194.39999999999998" stroke-width="1.08" fill="none"/>
<path d="M452.2,217.39999999999998 Q449,206.39999999999998 448.5,194.09999999999997" stroke-width="1.08" fill="none"/>
<path d="M431.5,211.4 L434.1,210.0" stroke-width="0.68" fill="none"/>
<path d="M433.1,214.3 L435.7,212.9" stroke-width="0.68" fill="none"/>
<path d="M434.7,217.2 L437.3,215.8" stroke-width="0.68" fill="none"/>
<path d="M436.3,220.1 L438.9,218.7" stroke-width="0.68" fill="none"/>
<path d="M437.9,223.0 L440.5,221.6" stroke-width="0.68" fill="none"/>
<path d="M513.3,105.4 H485.8 V143.3 H513.3" stroke-width="1.35" fill="none"/>
<line x1="472.4" y1="147.8" x2="513.3" y2="147.8" stroke-width="1.76"/>
<line x1="483.2" y1="145.5" x2="513.3" y2="145.5" stroke-width="0.68"/>
<line x1="472.4" y1="230.6" x2="513.3" y2="230.6" stroke-width="1.76"/>
<path d="M513.3,234.8 H485.8 V273.6 H513.3" stroke-width="1.35" fill="none"/>
<path d="M466.5,117.7 L451.5,127.3 L428.7,168.5 L428.7,210.9 L451.5,252.1 L466.5,261.7" stroke-width="2.43" fill="none"/>
<path d="M467.5,120.6 L453.6,129.6 L431.6,169.3 L431.6,210.1 L453.6,249.8 L467.5,258.8" stroke-width="0.81" fill="none"/>
<path d="M468.5,123.2 L455.4,131.6 L433.8,170.0 L433.8,209.4 L455.4,247.8 L468.5,256.2" stroke-width="1.35" fill="none"/>
<path d="M472.4,146.5 Q468.0,152.3 463.0,159.5 Q455.8,171.0 455.8,189.7 Q455.8,208.4 463.0,219.9 Q468.0,227.1 472.4,232.9" stroke-width="1.62" fill="none"/>
<path d="M474.5,148.7 Q470.3,154.2 465.6,161.0 Q458.7,171.9 458.8,189.7 Q458.7,207.5 465.6,218.4 Q470.3,225.2 474.5,230.7" stroke-width="1.89" fill="none"/>
<path d="M476.7,151.0 Q472.8,156.2 468.3,162.7 Q461.7,172.9 462.0,189.7 Q461.7,206.5 468.3,216.7 Q472.8,223.2 476.7,228.4" stroke-width="1.08" fill="none"/>
<path d="M478.7,153.2 Q475.1,158.2 470.9,164.2 Q464.5,173.8 465.0,189.7 Q464.5,205.6 470.9,215.2 Q475.1,221.2 478.7,226.2" stroke-width="0.68" fill="none"/>
<circle cx="436.3" cy="189.7" r="6.2" stroke-width="2.03" fill="#fff"/>
<circle cx="436.3" cy="189.7" r="3.4" stroke-width="1.35" fill="none"/>
<circle cx="446.6" cy="151.2" r="6.2" stroke-width="2.03" fill="#fff"/>
<circle cx="446.6" cy="151.2" r="3.4" stroke-width="1.35" fill="none"/>
<circle cx="474.8" cy="123.0" r="6.2" stroke-width="2.03" fill="#fff"/>
<circle cx="474.8" cy="123.0" r="3.4" stroke-width="1.35" fill="none"/>
<circle cx="446.6" cy="228.2" r="6.2" stroke-width="2.03" fill="#fff"/>
<circle cx="446.6" cy="228.2" r="3.4" stroke-width="1.35" fill="none"/>
<circle cx="474.8" cy="256.4" r="6.2" stroke-width="2.03" fill="#fff"/>
<circle cx="474.8" cy="256.4" r="3.4" stroke-width="1.35" fill="none"/>
<line x1="443" y1="186.7" x2="494" y2="186.7" stroke-width="2.43"/>
<line x1="443" y1="192.2" x2="494" y2="192.2" stroke-width="1.35"/>
<line x1="463" y1="194.4" x2="483" y2="194.4" stroke-width="0.54"/>
<line x1="493.8" y1="147.8" x2="493.8" y2="230.6" stroke-width="1.62"/></g>
<g transform="translate(1026.6,0) scale(-1,1)"><line x1="468" y1="53.1" x2="513.3" y2="53.1" stroke-width="1.49"/>
<line x1="469" y1="54.6" x2="486" y2="54.6" stroke-width="0.54"/>
<line x1="468" y1="53.1" x2="468" y2="75.8" stroke-width="1.49"/>
<line x1="466.8" y1="75.8" x2="466.8" y2="104" stroke-width="1.49"/>
<path d="M473.3,75.8 V58.8 Q473.3,57.3 474.8,57.3 H484.6 V75.8" stroke-width="1.22" fill="none"/>
<line x1="475.3" y1="58" x2="475.3" y2="75.8" stroke-width="0.54"/>
<rect x="480.5" y="53.1" width="3.5" height="4.2" rx="0" stroke-width="0.81" fill="none"/>
<line x1="486.4" y1="54" x2="486.4" y2="75.8" stroke-width="0.68"/>
<line x1="466.8" y1="75.8" x2="486.4" y2="75.8" stroke-width="1.76"/>
<line x1="484.6" y1="75.8" x2="484.6" y2="93.8" stroke-width="1.35"/>
<line x1="466.8" y1="93.8" x2="493.6" y2="93.8" stroke-width="1.35"/>
<line x1="468.8" y1="77" x2="468.8" y2="93" stroke-width="0.54"/>
<rect x="486.4" y="78" width="7.2" height="15.8" rx="0" stroke-width="1.08" fill="none"/>
<line x1="494.8" y1="51" x2="513.3" y2="51" stroke-width="2.03"/>
<line x1="466.8" y1="95.2" x2="500.7" y2="95.2" stroke-width="1.49"/>
<line x1="466.8" y1="103.6" x2="513.3" y2="103.6" stroke-width="1.49"/>
<line x1="500.7" y1="95.2" x2="500.7" y2="103.6" stroke-width="0.94"/>
<line x1="507.3" y1="102" x2="513.3" y2="102" stroke-width="0.68"/>
<line x1="466.5" y1="103.6" x2="466.5" y2="117.7" stroke-width="1.76"/>
<line x1="483.2" y1="103.6" x2="483.2" y2="147.8" stroke-width="1.49"/>
<line x1="485" y1="104" x2="485" y2="144" stroke-width="0.68"/>
<rect x="469.6" y="106.2" width="10.0" height="10.1" rx="0" stroke-width="0.94" fill="none"/>
<rect x="471.8" y="107.5" width="5.6" height="7.5" rx="1.5" stroke-width="1.22" fill="none"/>
<path d="M473.4,109.5 V112.3 Q474.6,114 475.8,112.3 V109.5" stroke-width="1.08" fill="none"/>
<line x1="472.4" y1="130" x2="472.4" y2="146" stroke-width="1.89"/>
<line x1="476.6" y1="130.5" x2="476.6" y2="147.8" stroke-width="0.94"/>
<line x1="479.3" y1="128" x2="479.3" y2="147.8" stroke-width="0.81"/>
<path d="M483.2,131.0 L479.0,135.5 L479.0,146.0" stroke-width="0.94" fill="none"/>
<path d="M468.7,130.5 L453.9,142.5 L456.5,152.5 L464.0,157.6 L471.8,147.5 L471.8,132.8 Z" stroke-width="1.89" fill="none"/>
<path d="M458.6,147.6 L468.5,137.0" stroke-width="1.08" fill="none"/>
<path d="M461.2,152.0 L469.6,142.6" stroke-width="1.08" fill="none"/>
<path d="M438.3,162 L457.6,162 Q453.6,174 452.4,184.4 L442,184 L435.6,181 L434.2,171 Z" stroke-width="1.89" fill="none"/>
<path d="M447.9,162 Q444.6,172 444.2,185" stroke-width="1.08" fill="none"/>
<path d="M452.2,162 Q449,173 448.5,185.3" stroke-width="1.08" fill="none"/>
<path d="M431.5,168.0 L434.1,169.4" stroke-width="0.68" fill="none"/>
<path d="M433.1,165.1 L435.7,166.5" stroke-width="0.68" fill="none"/>
<path d="M434.7,162.2 L437.3,163.6" stroke-width="0.68" fill="none"/>
<path d="M436.3,159.3 L438.9,160.7" stroke-width="0.68" fill="none"/>
<path d="M437.9,156.4 L440.5,157.8" stroke-width="0.68" fill="none"/>
<line x1="466.5" y1="275.79999999999995" x2="466.5" y2="261.7" stroke-width="1.76"/>
<line x1="483.2" y1="275.79999999999995" x2="483.2" y2="231.59999999999997" stroke-width="1.49"/>
<line x1="485" y1="275.4" x2="485" y2="235.39999999999998" stroke-width="0.68"/>
<rect x="469.6" y="263.09999999999997" width="10.0" height="10.1" rx="0" stroke-width="0.94" fill="none"/>
<rect x="471.8" y="264.4" width="5.6" height="7.5" rx="1.5" stroke-width="1.22" fill="none"/>
<path d="M473.4,269.9 V267.09999999999997 Q474.6,265.4 475.8,267.09999999999997 V269.9" stroke-width="1.08" fill="none"/>
<line x1="472.4" y1="249.39999999999998" x2="472.4" y2="233.39999999999998" stroke-width="1.89"/>
<line x1="476.6" y1="248.89999999999998" x2="476.6" y2="231.59999999999997" stroke-width="0.94"/>
<line x1="479.3" y1="251.39999999999998" x2="479.3" y2="231.59999999999997" stroke-width="0.81"/>
<path d="M483.2,248.4 L479.0,243.9 L479.0,233.4" stroke-width="0.94" fill="none"/>
<path d="M468.7,248.9 L453.9,236.9 L456.5,226.9 L464.0,221.8 L471.8,231.9 L471.8,246.6 Z" stroke-width="1.89" fill="none"/>
<path d="M458.6,231.8 L468.5,242.4" stroke-width="1.08" fill="none"/>
<path d="M461.2,227.4 L469.6,236.8" stroke-width="1.08" fill="none"/>
<path d="M438.3,217.39999999999998 L457.6,217.39999999999998 Q453.6,205.39999999999998 452.4,194.99999999999997 L442,195.39999999999998 L435.6,198.39999999999998 L434.2,208.39999999999998 Z" stroke-width="1.89" fill="none"/>
<path d="M447.9,217.39999999999998 Q444.6,207.39999999999998 444.2,194.39999999999998" stroke-width="1.08" fill="none"/>
<path d="M452.2,217.39999999999998 Q449,206.39999999999998 448.5,194.09999999999997" stroke-width="1.08" fill="none"/>
<path d="M431.5,211.4 L434.1,210.0" stroke-width="0.68" fill="none"/>
<path d="M433.1,214.3 L435.7,212.9" stroke-width="0.68" fill="none"/>
<path d="M434.7,217.2 L437.3,215.8" stroke-width="0.68" fill="none"/>
<path d="M436.3,220.1 L438.9,218.7" stroke-width="0.68" fill="none"/>
<path d="M437.9,223.0 L440.5,221.6" stroke-width="0.68" fill="none"/>
<path d="M513.3,105.4 H485.8 V143.3 H513.3" stroke-width="1.35" fill="none"/>
<line x1="472.4" y1="147.8" x2="513.3" y2="147.8" stroke-width="1.76"/>
<line x1="483.2" y1="145.5" x2="513.3" y2="145.5" stroke-width="0.68"/>
<line x1="472.4" y1="230.6" x2="513.3" y2="230.6" stroke-width="1.76"/>
<path d="M513.3,234.8 H485.8 V273.6 H513.3" stroke-width="1.35" fill="none"/>
<path d="M466.5,117.7 L451.5,127.3 L428.7,168.5 L428.7,210.9 L451.5,252.1 L466.5,261.7" stroke-width="2.43" fill="none"/>
<path d="M467.5,120.6 L453.6,129.6 L431.6,169.3 L431.6,210.1 L453.6,249.8 L467.5,258.8" stroke-width="0.81" fill="none"/>
<path d="M468.5,123.2 L455.4,131.6 L433.8,170.0 L433.8,209.4 L455.4,247.8 L468.5,256.2" stroke-width="1.35" fill="none"/>
<path d="M472.4,146.5 Q468.0,152.3 463.0,159.5 Q455.8,171.0 455.8,189.7 Q455.8,208.4 463.0,219.9 Q468.0,227.1 472.4,232.9" stroke-width="1.62" fill="none"/>
<path d="M474.5,148.7 Q470.3,154.2 465.6,161.0 Q458.7,171.9 458.8,189.7 Q458.7,207.5 465.6,218.4 Q470.3,225.2 474.5,230.7" stroke-width="1.89" fill="none"/>
<path d="M476.7,151.0 Q472.8,156.2 468.3,162.7 Q461.7,172.9 462.0,189.7 Q461.7,206.5 468.3,216.7 Q472.8,223.2 476.7,228.4" stroke-width="1.08" fill="none"/>
<path d="M478.7,153.2 Q475.1,158.2 470.9,164.2 Q464.5,173.8 465.0,189.7 Q464.5,205.6 470.9,215.2 Q475.1,221.2 478.7,226.2" stroke-width="0.68" fill="none"/>
<circle cx="436.3" cy="189.7" r="6.2" stroke-width="2.03" fill="#fff"/>
<circle cx="436.3" cy="189.7" r="3.4" stroke-width="1.35" fill="none"/>
<circle cx="446.6" cy="151.2" r="6.2" stroke-width="2.03" fill="#fff"/>
<circle cx="446.6" cy="151.2" r="3.4" stroke-width="1.35" fill="none"/>
<circle cx="474.8" cy="123.0" r="6.2" stroke-width="2.03" fill="#fff"/>
<circle cx="474.8" cy="123.0" r="3.4" stroke-width="1.35" fill="none"/>
<circle cx="446.6" cy="228.2" r="6.2" stroke-width="2.03" fill="#fff"/>
<circle cx="446.6" cy="228.2" r="3.4" stroke-width="1.35" fill="none"/>
<circle cx="474.8" cy="256.4" r="6.2" stroke-width="2.03" fill="#fff"/>
<circle cx="474.8" cy="256.4" r="3.4" stroke-width="1.35" fill="none"/>
<line x1="443" y1="186.7" x2="494" y2="186.7" stroke-width="2.43"/>
<line x1="443" y1="192.2" x2="494" y2="192.2" stroke-width="1.35"/>
<line x1="463" y1="194.4" x2="483" y2="194.4" stroke-width="0.54"/>
<line x1="493.8" y1="147.8" x2="493.8" y2="230.6" stroke-width="1.62"/></g>
<circle cx="513.4" cy="78.1" r="19.6" stroke-width="1.49" fill="#fff"/>
<path d="M489,75.8 A24.3,22.2 0 0 1 537.6,75.8" stroke-width="1.76" fill="none"/>
<path d="M493,77 A20.3,20.3 0 0 1 533.6,77" stroke-width="1.35" fill="none"/>
<line x1="513.3" y1="123.4" x2="513.3" y2="137" stroke-width="1.49" stroke="#333"/>
<path d="M513.3,115 L516.6,123.4 H510 Z" stroke-width="1.08" fill="#fff" stroke="#222"/>
<line x1="513.3" y1="250" x2="513.3" y2="263.5" stroke-width="1.49" stroke="#333"/>
<path d="M513.3,241.8 L516.6,250 H510 Z" stroke-width="1.08" fill="#fff" stroke="#222"/>
<circle cx="513.3" cy="189.7" r="18.8" stroke-width="2.56" fill="#fff"/>
<circle cx="513.3" cy="189.7" r="16.4" stroke-width="0.81" fill="none"/>
<circle cx="513.3" cy="189.7" r="14" stroke-width="1.22" fill="none"/>
<circle cx="513.3" cy="189.7" r="11.8" stroke-width="1.76" fill="none"/>
<line x1="509.9" y1="147.8" x2="509.9" y2="171" stroke-width="1.62"/>
<line x1="516.6" y1="147.8" x2="516.6" y2="171" stroke-width="1.62"/>
<line x1="509.9" y1="208.5" x2="509.9" y2="230.6" stroke-width="1.62"/>
<line x1="516.6" y1="208.5" x2="516.6" y2="230.6" stroke-width="1.62"/>
<line x1="467.5" y1="275.2" x2="558.8" y2="275.2" stroke-width="1.49"/>
<line x1="467.5" y1="284.8" x2="558.8" y2="284.8" stroke-width="1.49"/>
<line x1="467.5" y1="275.2" x2="467.5" y2="306" stroke-width="1.49"/>
<line x1="558.8" y1="275.2" x2="558.8" y2="306" stroke-width="1.49"/>
<line x1="500.8" y1="275.2" x2="500.8" y2="284.8" stroke-width="0.94"/>
<line x1="525.8" y1="275.2" x2="525.8" y2="284.8" stroke-width="0.94"/>
<path d="M467.5,306 L471.5,308 V310.4 H436.4 Q434.4,310.4 434.4,312.4 V332.6 H592.2 V312.4 Q592.2,310.4 590.2,310.4 H555.1 V308 L558.8,306" stroke-width="1.49" fill="none"/>
<line x1="474.5" y1="303.6" x2="474.5" y2="332.6" stroke-width="0.94"/>
<line x1="552.6" y1="303.6" x2="552.6" y2="332.6" stroke-width="0.94"/>
<line x1="436.6" y1="312" x2="436.6" y2="332.6" stroke-width="0.54"/>
<line x1="590" y1="312" x2="590" y2="332.6" stroke-width="0.54"/>
<line x1="469.8" y1="312" x2="469.8" y2="332.6" stroke-width="0.68"/>
<line x1="556.8" y1="312" x2="556.8" y2="332.6" stroke-width="0.68"/>
<line x1="484.4" y1="284.8" x2="484.4" y2="303.6" stroke-width="1.35"/>
<line x1="542.2" y1="284.8" x2="542.2" y2="303.6" stroke-width="1.35"/>
<line x1="471.5" y1="303.6" x2="484.4" y2="303.6" stroke-width="1.35"/>
<line x1="542.2" y1="303.6" x2="555.1" y2="303.6" stroke-width="1.35"/>
<path d="M486.7,284.8 V302 H488.5 A25,25 0 0 0 538.5,302 H540.3 V284.8" stroke-width="1.49" fill="none"/>
<path d="M492.8,284.8 V301 M534.2,284.8 V301" stroke-width="0.94" fill="none"/>
<path d="M492.4,302 A21.1,21.1 0 0 0 534.6,302" stroke-width="0.94" fill="none"/>
<circle cx="513.5" cy="301.8" r="19.9" stroke-width="1.49" fill="#fff"/>
<g stroke="none" fill="#151515" font-family="Liberation Sans, sans-serif" font-size="15">
<text x="215.7" y="20" text-anchor="middle" font-size="17.5">A</text>
<text x="511.1" y="20" text-anchor="middle" font-size="17.5">B</text>
<text transform="translate(644.1,195.3) rotate(-90) scale(0.78,1)" text-anchor="middle" font-size="18">C</text>
<text transform="translate(370.2,122.7) rotate(-90)" text-anchor="middle">DnM</text>
<text transform="translate(370.7,350.6) rotate(-90)" text-anchor="middle">DnA</text>
</g>
<rect x="61.2" y="404" width="581.9" height="73.9" fill="#fff" stroke="#8db3e2" stroke-width="2"/>
<rect x="62.2" y="405" width="579.9" height="35" fill="#0670c2" stroke="none"/>
<rect x="62.2" y="440" width="579.9" height="1.2" fill="#dbe8f7" stroke="none"/>
<g stroke="none" font-family="Liberation Sans, sans-serif" text-anchor="middle">
<text x="113.9" y="428.5" fill="#fff" font-weight="bold" font-size="13.8">Модель</text>
<text x="114.8" y="466" fill="#484848" font-size="14">AF0170PD</text>
<text x="198.1" y="420.9" fill="#fff" font-weight="bold" font-size="14">DnA</text>
<text x="198.1" y="436.8" fill="#fff" font-size="13">дюйм</text>
<text x="197.3" y="466" fill="#484848" font-size="15">1</text>
<text x="261.1" y="420.9" fill="#fff" font-weight="bold" font-size="14">DnM</text>
<text x="261.1" y="436.8" fill="#fff" font-size="13">дюйм</text>
<text x="261.3" y="466" fill="#484848" font-size="15">1</text>
<text x="328.5" y="420.9" fill="#fff" font-weight="bold" font-size="14">A</text>
<text x="328.5" y="436.8" fill="#fff" font-size="13">мм</text>
<text x="328.5" y="466" fill="#484848" font-size="15">430</text>
<text x="399.4" y="420.9" fill="#fff" font-weight="bold" font-size="14">B</text>
<text x="399.4" y="436.8" fill="#fff" font-size="13">мм</text>
<text x="399.1" y="466" fill="#484848" font-size="15">222</text>
<text x="470.2" y="420.9" fill="#fff" font-weight="bold" font-size="14">C</text>
<text x="470.2" y="436.8" fill="#fff" font-size="13">мм</text>
<text x="469.1" y="466" fill="#484848" font-size="15">416</text>
<text x="540.2" y="420.9" fill="#fff" font-weight="bold" font-size="14">Вес</text>
<text x="540.2" y="436.8" fill="#fff" font-size="13">кг</text>
<text x="538.4" y="466" fill="#484848" font-size="15">14,2</text>
<text x="608.7" y="419.8" fill="#fff" font-weight="bold" font-size="14">Макс. T</text>
<text x="608.7" y="438.2" fill="#fff" font-weight="bold" font-size="13.5">°C</text>
<text x="609.1" y="464.8" fill="#484848" font-size="15">65</text>
</g>
</svg>
</body></html>
